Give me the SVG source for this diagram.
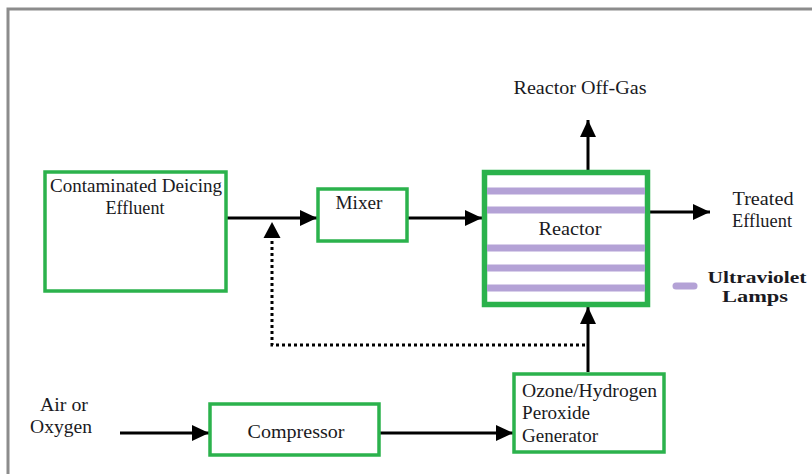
<svg xmlns="http://www.w3.org/2000/svg" width="812" height="474" viewBox="0 0 812 474">
<defs>
<style>
.box{fill:#fff;stroke:#2bb24c;stroke-width:3.5}
.t{font-family:"Liberation Serif","Times New Roman",serif;font-size:18px;fill:#1a1a22}
.b{font-weight:bold;font-size:17px}
.ln{stroke:#000;stroke-width:3;fill:none}
.dot{stroke:#000;stroke-width:3;fill:none;stroke-dasharray:3 3}
.uv{stroke:#b4a2d6;stroke-width:7}
</style>
<marker id="ah" markerUnits="userSpaceOnUse" markerWidth="18" markerHeight="17" refX="17" refY="8" orient="auto">
<path d="M0,0 L17,8 L0,16 z" fill="#000"/>
</marker>
</defs>
<rect width="812" height="474" fill="#fff"/>
<g id="frame">
<path d="M8,474 V9 H812" stroke="#8c8c8c" stroke-width="3" fill="none"/>
</g>
<g id="connectors">
<line class="ln" x1="227" y1="218" x2="317" y2="218" marker-end="url(#ah)"/>
<line class="ln" x1="408" y1="218" x2="482" y2="218" marker-end="url(#ah)"/>
<line class="ln" x1="588" y1="170" x2="588" y2="120" marker-end="url(#ah)"/>
<line class="ln" x1="650" y1="212" x2="710" y2="212" marker-end="url(#ah)"/>
<line class="ln" x1="588" y1="372" x2="588" y2="307" marker-end="url(#ah)"/>
<line class="ln" x1="120" y1="433" x2="209" y2="433" marker-end="url(#ah)"/>
<line class="ln" x1="380" y1="433" x2="513" y2="433" marker-end="url(#ah)"/>
<path class="dot" d="M585,345 H272 V238"/>
<path d="M272,222 L280.5,238 L263.5,238 z" fill="#000"/>
</g>
<g id="contaminated">
<rect class="box" x="45" y="172" width="181" height="119"/>
<text class="t" x="136" y="192" text-anchor="middle" textLength="172" lengthAdjust="spacingAndGlyphs">Contaminated Deicing</text>
<text class="t" x="135" y="214" text-anchor="middle" textLength="59" lengthAdjust="spacingAndGlyphs">Effluent</text>
</g>
<g id="mixer">
<rect class="box" x="318" y="189" width="89" height="52" stroke-width="3"/>
<text class="t" x="359" y="209" text-anchor="middle" textLength="47" lengthAdjust="spacingAndGlyphs">Mixer</text>
</g>
<g id="reactor">
<rect x="484.5" y="172.5" width="163" height="132" fill="#fff" stroke="#2bb24c" stroke-width="5.5"/>
<line class="uv" x1="487" y1="191" x2="645" y2="191"/>
<line class="uv" x1="487" y1="210" x2="645" y2="210"/>
<line class="uv" x1="487" y1="248" x2="645" y2="248"/>
<line class="uv" x1="487" y1="268" x2="645" y2="268"/>
<line class="uv" x1="487" y1="288" x2="645" y2="288"/>
<text class="t" x="570" y="235" text-anchor="middle" textLength="63" lengthAdjust="spacingAndGlyphs">Reactor</text>
</g>
<g id="offgas">
<text class="t" x="580" y="94" text-anchor="middle" textLength="133" lengthAdjust="spacingAndGlyphs">Reactor Off-Gas</text>
</g>
<g id="treated">
<text class="t" x="763" y="205" text-anchor="middle" textLength="61" lengthAdjust="spacingAndGlyphs">Treated</text>
<text class="t" x="762" y="227" text-anchor="middle" textLength="60" lengthAdjust="spacingAndGlyphs">Effluent</text>
</g>
<g id="legend">
<line x1="676" y1="286" x2="694" y2="286" stroke="#b4a2d6" stroke-width="7" stroke-linecap="round"/>
<text class="t b" x="757" y="283" text-anchor="middle" textLength="99" lengthAdjust="spacingAndGlyphs">Ultraviolet</text>
<text class="t b" x="755" y="302" text-anchor="middle" textLength="66" lengthAdjust="spacingAndGlyphs">Lamps</text>
</g>
<g id="generator">
<rect class="box" x="514" y="374" width="150" height="78"/>
<text class="t" x="522" y="397" textLength="135" lengthAdjust="spacingAndGlyphs">Ozone/Hydrogen</text>
<text class="t" x="522" y="419" textLength="68" lengthAdjust="spacingAndGlyphs">Peroxide</text>
<text class="t" x="522" y="442" textLength="76" lengthAdjust="spacingAndGlyphs">Generator</text>
</g>
<g id="compressor">
<rect class="box" x="210" y="404" width="169" height="51" stroke-width="3"/>
<text class="t" x="296" y="438" text-anchor="middle" textLength="97" lengthAdjust="spacingAndGlyphs">Compressor</text>
</g>
<g id="air">
<text class="t" x="64" y="411" text-anchor="middle" textLength="48" lengthAdjust="spacingAndGlyphs">Air or</text>
<text class="t" x="61" y="433" text-anchor="middle" textLength="62" lengthAdjust="spacingAndGlyphs">Oxygen</text>
</g>
</svg>
